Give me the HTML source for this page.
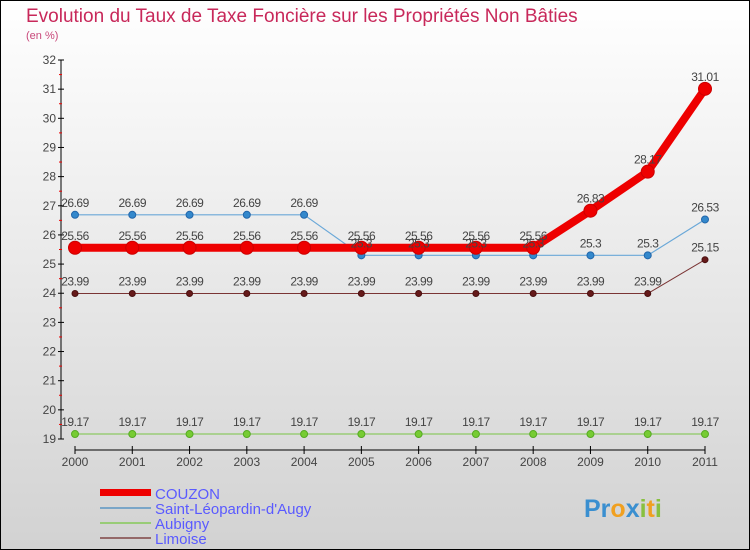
<!DOCTYPE html>
<html><head><meta charset="utf-8"><style>
body{margin:0;}
#c{width:750px;height:550px;position:relative;overflow:hidden;}
svg text{font-family:"Liberation Sans",sans-serif;}
</style></head><body>
<div id="c">
<svg id="s" width="750" height="550" xmlns="http://www.w3.org/2000/svg">
<defs><linearGradient id="bg" x1="0" y1="0" x2="0" y2="1"><stop offset="0" stop-color="#ffffff"/><stop offset="1" stop-color="#d2d2d2"/></linearGradient></defs>
<rect x="0.5" y="0.5" width="749" height="549" fill="url(#bg)" stroke="#000"/>
<text x="26" y="22" font-size="19" fill="#c8285a">Evolution du Taux de Taxe Foncière sur les Propriétés Non Bâties</text>
<text x="26" y="39" font-size="11" fill="#c8487a">(en %)</text>
<g id="axes"></g><g id="series"></g><g id="labels"></g>
<g>
<rect x="100" y="489" width="51" height="7" fill="#ee0000"/>
<text x="155" y="499" font-size="15" fill="#5a5aff">COUZON</text>
<rect x="100" y="507" width="51" height="2" fill="#7aa6c8"/>
<text x="155" y="514" font-size="15" fill="#5a5aff">Saint-Léopardin-d'Augy</text>
<rect x="100" y="522" width="51" height="2" fill="#99cc77"/>
<text x="155" y="529" font-size="15" fill="#5a5aff">Aubigny</text>
<rect x="100" y="537" width="51" height="2" fill="#946868"/>
<text x="155" y="544" font-size="15" fill="#5a5aff">Limoise</text>
</g>
<text x="584" y="517" font-size="25" font-weight="bold"><tspan fill="#3a8fd0">Pr</tspan><tspan fill="#f0a020">o</tspan><tspan fill="#3a8fd0">x</tspan><tspan fill="#88c040">i</tspan><tspan fill="#f0a020">t</tspan><tspan fill="#88c040">i</tspan></text>
</svg></div>
<script>
const years=["2000","2001","2002","2003","2004","2005","2006","2007","2008","2009","2010","2011"];
const couzon=[25.56,25.56,25.56,25.56,25.56,25.56,25.56,25.56,25.56,26.83,28.17,31.01];
const saintLeo=[26.69,26.69,26.69,26.69,26.69,25.3,25.3,25.3,25.3,25.3,25.3,26.53];
const aubigny=[19.17,19.17,19.17,19.17,19.17,19.17,19.17,19.17,19.17,19.17,19.17,19.17];
const limoise=[23.99,23.99,23.99,23.99,23.99,23.99,23.99,23.99,23.99,23.99,23.99,25.15];
const yTicks=[19,20,21,22,23,24,25,26,27,28,29,30,31,32];
const NS="http://www.w3.org/2000/svg";
function X(i){return 75+i*(630/11);}
function Y(v){return 60+(32-v)*(379/13);}
function mk(tag,attrs,parent){const e=document.createElementNS(NS,tag);for(const k in attrs)e.setAttribute(k,attrs[k]);parent.appendChild(e);return e;}
const ax=document.getElementById('axes'),sg=document.getElementById('series'),lg=document.getElementById('labels');
let yl=mk('line',{x1:61,y1:60,x2:61,y2:439,stroke:'#000'},ax);


yTicks.forEach(t=>{
 mk('line',{x1:58,y1:Y(t),x2:64,y2:Y(t),stroke:'#000'},ax);
 if(t<32) mk('line',{x1:59,y1:Y(t+0.5),x2:62,y2:Y(t+0.5),stroke:'#e00'},ax);
 const tx=mk('text',{x:56,y:Y(t)+4,'font-size':12,fill:'#444','text-anchor':'end'},ax);tx.textContent=t;
 
 
});
let xl=mk('line',{x1:75,y1:450,x2:705,y2:450,stroke:'#000'},ax);


years.forEach((y,i)=>{
 mk('line',{x1:X(i),y1:446,x2:X(i),y2:454,stroke:'#000'},ax);
 const tx=mk('text',{x:X(i),y:466,'font-size':12,fill:'#444','text-anchor':'middle'},ax);tx.textContent=y;
 
 
});
function series(name,data,color,w,r,dotFill,dotStroke){
 const g=mk('g',{},sg);
 
 
 mk('polyline',{points:data.map((v,i)=>X(i)+','+Y(v)).join(' '),fill:'none',stroke:color,'stroke-width':w,'stroke-linejoin':'round'},g);
 data.forEach((v,i)=>{
  const c=mk('circle',{cx:X(i),cy:Y(v),r:r,fill:dotFill,stroke:dotStroke,'stroke-width':1},g);
  
  
  const t=mk('text',{x:X(i),y:Y(v)-8,'font-size':12,fill:'#444','text-anchor':'middle','letter-spacing':'-0.5'},lg);
  t.textContent=String(v);
  
  
 });
}
series('limoise',limoise,'#7a3434',1,3,'#661a1a','#4a1010');
series('aubigny',aubigny,'#99cc77',1.5,3.5,'#77cc33','#55aa22');
series('saint-leopardin',saintLeo,'#6aa8d8',1.2,3.5,'#3388cc','#2266aa');
series('couzon',couzon,'#ee0000',8,6.5,'#ee0000','#cc0000');
</script>
</body></html>
